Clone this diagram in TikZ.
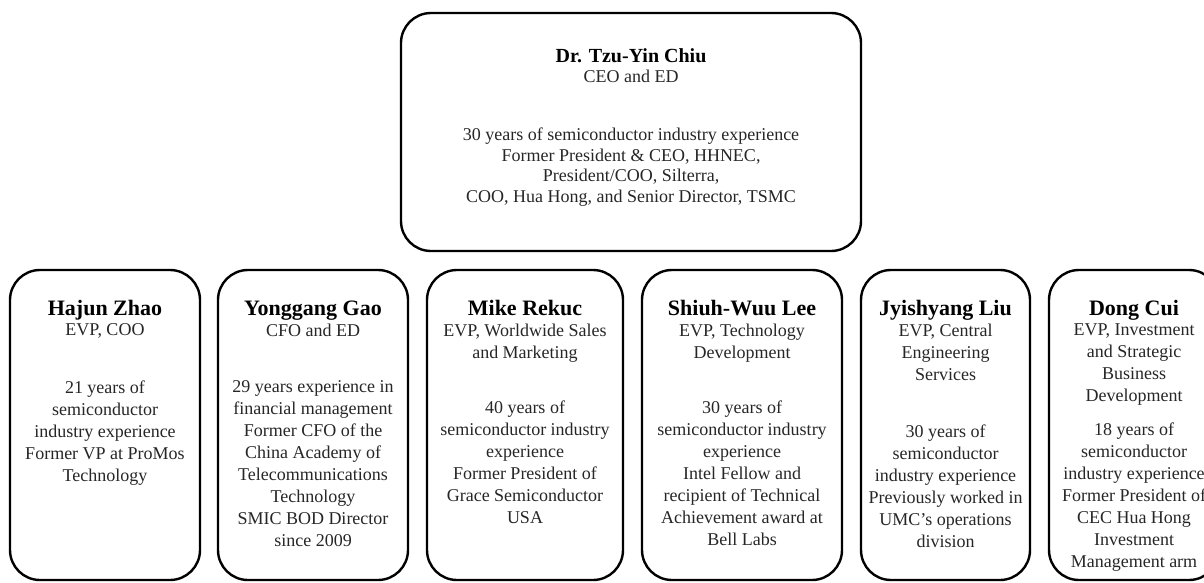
\documentclass[tikz,border=0pt]{standalone}
\usepackage{fontspec}
\setmainfont{Liberation Serif}
\tikzset{card/.style={draw,line width=2.4pt,rounded corners=30pt,minimum height=310pt,inner sep=0pt},
who/.style={font=\fontsize{22}{22}\selectfont\bfseries,anchor=base,inner sep=0pt},
role/.style={font=\fontsize{18}{22}\selectfont,align=center,anchor=north,inner sep=0pt,text=black!85},
info/.style={role}}
\begin{document}
\begin{tikzpicture}[x=1pt,y=-1pt]
\useasboundingbox (0,0) rectangle (1204,582);
% chief executive
\node[card,minimum width=460pt,minimum height=238pt] (ceo) at (631,132) {};
\node[who,font=\fontsize{20}{20}\selectfont\bfseries] (ceo-n) at (631,62) {Dr. Tzu-Yin Chiu};
\node[role] (ceo-r) at (631,69.7) {CEO and ED};
\node[info,font=\fontsize{18}{20.7}\selectfont] (ceo-b) at (631,127.7) {30 years of semiconductor industry experience\\Former President \& CEO, HHNEC,\\President/COO, Silterra,\\COO, Hua Hong, and Senior Director, TSMC};
% executive vice presidents
\coordinate (namerow) at (0,315);
\coordinate (rolerow) at (0,323.5);
\foreach \cx/\w/\id in {105/190/zhao,313/190/gao,525/196/rekuc,742/200/lee,945.5/169/liu,1134/170/cui}
  \node[card,minimum width=\w pt] (\id) at (\cx,425) {};
\foreach \id/\t in {zhao/Hajun Zhao,gao/Yonggang Gao,rekuc/Mike Rekuc,lee/Shiuh-Wuu Lee,liu/Jyishyang Liu,cui/Dong Cui}
  \node[who] (\id-n) at (\id.center |- namerow) {\t};
\foreach \id/\t in {zhao/{EVP, COO},gao/{CFO and ED},rekuc/{EVP, Worldwide Sales\\and Marketing},lee/{EVP, Technology\\Development},liu/{EVP, Central\\Engineering\\Services},cui/{EVP, Investment\\and Strategic\\Business\\Development}}
  \node[role] (\id-r) at (\id.center |- rolerow) {\t};
\node[info] (zhao-b) at (105,380.7) {21 years of\\semiconductor\\industry experience\\Former VP at ProMos\\Technology};
\node[info] (gao-b) at (313,380.7) {29 years experience in\\financial management\\Former CFO of the\\China Academy of\\Telecommunications\\Technology\\SMIC BOD Director\\since 2009};
\node[info] (rekuc-b) at (525,400.7) {40 years of\\semiconductor industry\\experience\\Former President of\\Grace Semiconductor\\USA};
\node[info] (lee-b) at (742,400.7) {30 years of\\semiconductor industry\\experience\\Intel Fellow and\\recipient of Technical\\Achievement award at\\Bell Labs};
\node[info] (liu-b) at (945.5,424.7) {30 years of\\semiconductor\\industry experience\\Previously worked in\\UMC's operations\\division};
\node[info] (cui-b) at (1134,422.7) {18 years of\\semiconductor\\industry experience\\Former President of\\CEC Hua Hong\\Investment\\Management arm};
\end{tikzpicture}
\end{document}
